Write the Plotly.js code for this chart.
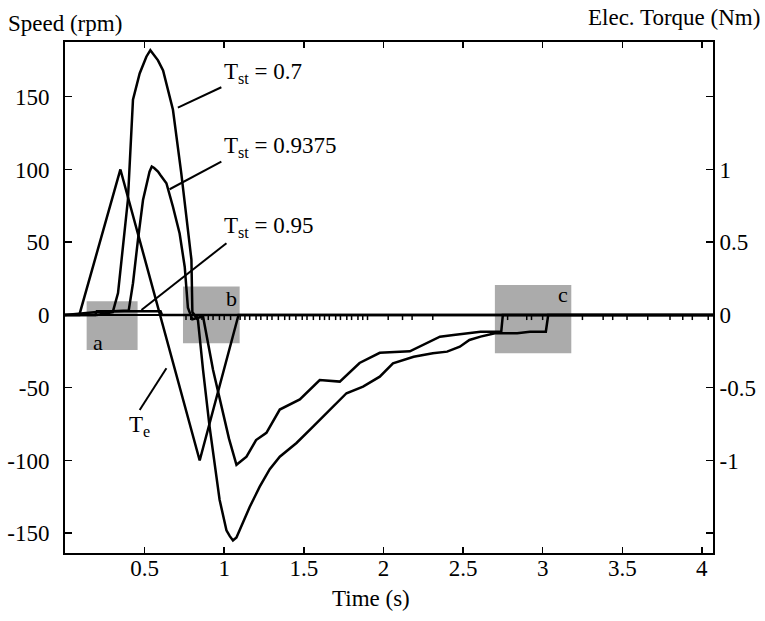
<!DOCTYPE html>
<html>
<head>
<meta charset="utf-8">
<script src="https://cdn.plot.ly/plotly-3.0.1.min.js"></script>
<style>html,body{margin:0;padding:0;background:#fff;}#chart{width:765px;height:621px;}</style>
</head>
<body>
<div id="chart"></div>
<script>
// ---- data ----
const tTe = [0, 0.09, 0.348, 0.846, 1.09, 4.07];
const torqueTe = [0, 0, 1, -1, 0, 0];

const t07 = [0, 0.20, 0.30, 0.333, 0.395, 0.427, 0.469, 0.511, 0.536, 0.584, 0.616, 0.678, 0.73, 0.773, 0.794, 0.80, 0.835, 0.867, 0.908, 0.971, 1.014, 1.035, 1.055, 1.077, 1.097, 1.16, 1.223, 1.286, 1.349, 1.454, 1.558, 1.663, 1.768, 1.872, 1.977, 2.06, 2.19, 2.31, 2.40, 2.48, 2.54, 2.61, 2.70, 2.84, 2.92, 3.02, 3.035, 4.07];
const speed07 = [0, 0, 2, 15, 79, 148, 166, 177.5, 182, 175, 168, 141, 97.6, 56, 38, 2, -3.4, -37.8, -76.8, -127, -148, -152, -155, -153, -148, -132, -118, -106, -97.4, -88, -76.8, -65.3, -53.8, -49.3, -42.4, -33.2, -28.7, -26.3, -25.2, -21.8, -17.2, -14.9, -12.6, -12.6, -11.5, -11.5, 0, 0];

const t09375 = [0, 0.2, 0.40, 0.427, 0.458, 0.49, 0.531, 0.545, 0.56, 0.584, 0.60, 0.637, 0.678, 0.72, 0.752, 0.772, 0.80, 0.867, 0.93, 0.971, 1.03, 1.077, 1.1, 1.14, 1.2, 1.265, 1.349, 1.475, 1.6, 1.726, 1.85, 1.977, 2.166, 2.25, 2.355, 2.44, 2.61, 2.74, 2.75, 4.07];
const speed09375 = [0, 2, 3, 21.8, 51.5, 79, 98.5, 102, 101, 98.5, 96, 90.5, 74.4, 56, 33, 5, -3, -1, -37.8, -58, -85, -103, -101, -97.4, -86, -81, -65, -58, -44.7, -45.8, -33, -26, -25, -20.6, -14.9, -13.7, -11.5, -11.5, 0, 0];

const t095 = [0, 0.19, 0.2, 0.6, 0.61, 4.07];
const speed095 = [0, 0, 2.5, 2.5, 0, 0];

// small measurement spikes seen along the zero line (time, rpm)
const spikeTimes = [0.76,0.79,0.83,0.86,0.9,0.93,0.97,1.0,1.04,1.1,1.13,1.16,1.2,1.23,1.27,1.3,1.34,1.38,1.41,1.45,1.49,1.52,1.56,1.6,1.63,1.66,1.7,1.73,1.77,1.8,1.84,1.87,1.9,2.03,2.12,2.18,2.31,2.78,2.9,2.93,3.0,3.25,3.38,3.44,3.53,3.66,3.8,3.88,3.94,4.04];
const spikeDepth = -3.5;

const xTicks = [0.5, 1, 1.5, 2, 2.5, 3, 3.5, 4];
const yTicks = [-150, -100, -50, 0, 50, 100, 150];
const y2Ticks = [-1.5, -1, -0.5, 0, 0.5, 1, 1.5];
const y2Labels = [' ', '-1', '-0.5', '0', '0.5', '1', ' '];

// ---- build ----
const line = {color: '#000', width: 2.5};
const sx = [], sy = [];
spikeTimes.forEach(t => { sx.push(t, t, null); sy.push(0, spikeDepth, null); });

const traces = [
  {x: t095, y: speed095, mode: 'lines', line: line, name: 'Tst = 0.95'},
  {x: t09375, y: speed09375, mode: 'lines', line: line, name: 'Tst = 0.9375'},
  {x: t07, y: speed07, mode: 'lines', line: line, name: 'Tst = 0.7'},
  {x: sx, y: sy, mode: 'lines', line: {color: '#000', width: 1.5}, name: 'noise'},
  {x: tTe, y: torqueTe, mode: 'lines', line: line, yaxis: 'y2', name: 'Te'}
];

const boxes = [
  {x0: 0.136, x1: 0.456, y0: -24, y1: 9.4, label: 'a', lx: 0.165, ly: -19, anchor: 'left'},
  {x0: 0.741, x1: 1.097, y0: -19.5, y1: 19.5, label: 'b', lx: 1.09, ly: 11, anchor: 'right'},
  {x0: 2.70, x1: 3.18, y0: -26.3, y1: 20.6, label: 'c', lx: 3.17, ly: 14, anchor: 'right'}
];

const leaders = [
  {x0: 0.982, y0: 156.5, x1: 0.709, y1: 142.5},
  {x0: 0.982, y0: 105.4, x1: 0.657, y1: 86.4},
  {x0: 1.014, y0: 49.3, x1: 0.48, y1: 3.4},
  {x0: 0.469, y0: -65.3, x1: 0.637, y1: -36.6}
];

const shapes = [];
boxes.forEach(b => shapes.push({type: 'rect', xref: 'x', yref: 'y', x0: b.x0, x1: b.x1, y0: b.y0, y1: b.y1,
  fillcolor: '#ababab', line: {width: 0}, layer: 'below'}));
leaders.forEach(l => shapes.push({type: 'line', xref: 'x', yref: 'y', x0: l.x0, y0: l.y0, x1: l.x1, y1: l.y1,
  line: {color: '#000', width: 2}}));

const FAM = 'Liberation Serif';
const font = {family: FAM, size: 23, color: '#000'};
const annotations = [
  {text: 'Speed (rpm)', xref: 'paper', yref: 'paper', x: -0.091, y: 1.036, xanchor: 'left', yanchor: 'middle', showarrow: false, font: font},
  {text: 'Elec. Torque (Nm)', xref: 'paper', yref: 'paper', x: 1.0757, y: 1.048, xanchor: 'right', yanchor: 'middle', showarrow: false, font: font},
  {text: 'Time (s)', xref: 'paper', yref: 'paper', x: 0.4727, y: -0.089, xanchor: 'center', yanchor: 'middle', showarrow: false, font: font},
  {text: 'T<sub>st</sub> = 0.7', xref: 'x', yref: 'y', x: 0.985, y: 166.5, xanchor: 'left', yanchor: 'middle', showarrow: false, font: font},
  {text: 'T<sub>st</sub> = 0.9375', xref: 'x', yref: 'y', x: 0.985, y: 115.7, xanchor: 'left', yanchor: 'middle', showarrow: false, font: font},
  {text: 'T<sub>st</sub> = 0.95', xref: 'x', yref: 'y', x: 0.985, y: 60.7, xanchor: 'left', yanchor: 'middle', showarrow: false, font: font},
  {text: 'T<sub>e</sub>', xref: 'x', yref: 'y', x: 0.39, y: -76, xanchor: 'left', yanchor: 'middle', showarrow: false, font: font}
];
boxes.forEach(b => annotations.push({text: b.label, xref: 'x', yref: 'y', x: b.lx, y: b.ly, xanchor: b.anchor, yanchor: 'middle',
  showarrow: false, font: {family: FAM, size: 22, color: '#000'}}));

const layout = {
  width: 765, height: 621,
  margin: {l: 65.4, r: 52, t: 42, b: 68, pad: 0},
  paper_bgcolor: '#fff', plot_bgcolor: '#fff',
  font: font,
  showlegend: false,
  xaxis: {range: [0, 4.07], tickvals: xTicks, ticktext: xTicks.map(String), ticks: 'inside', ticklen: 6, tickwidth: 1.5,
    tickcolor: '#000', showline: true, linewidth: 2, linecolor: '#000', mirror: 'ticks', showgrid: false, zeroline: false,
    ticklabelstandoff: -7, tickfont: font},
  yaxis: {range: [-163.6, 187.6], tickvals: yTicks, ticktext: yTicks.map(v => String(v)), ticks: 'inside', ticklen: 7, tickwidth: 1.5,
    tickcolor: '#000', showline: true, linewidth: 2, linecolor: '#000', showgrid: false, zeroline: true, zerolinewidth: 2.5,
    zerolinecolor: '#000', ticklabelstandoff: 9, tickfont: font},
  yaxis2: {overlaying: 'y', side: 'right', range: [-1.636, 1.876], tickvals: y2Ticks, ticktext: y2Labels, ticks: 'inside',
    ticklen: 7, tickwidth: 1.5, tickcolor: '#000', showline: true, linewidth: 2, linecolor: '#000', showgrid: false, zeroline: false,
    tickfont: font},
  shapes: shapes,
  annotations: annotations
};

Plotly.newPlot('chart', traces, layout, {staticPlot: true, displayModeBar: false});
</script>
</body>
</html>
